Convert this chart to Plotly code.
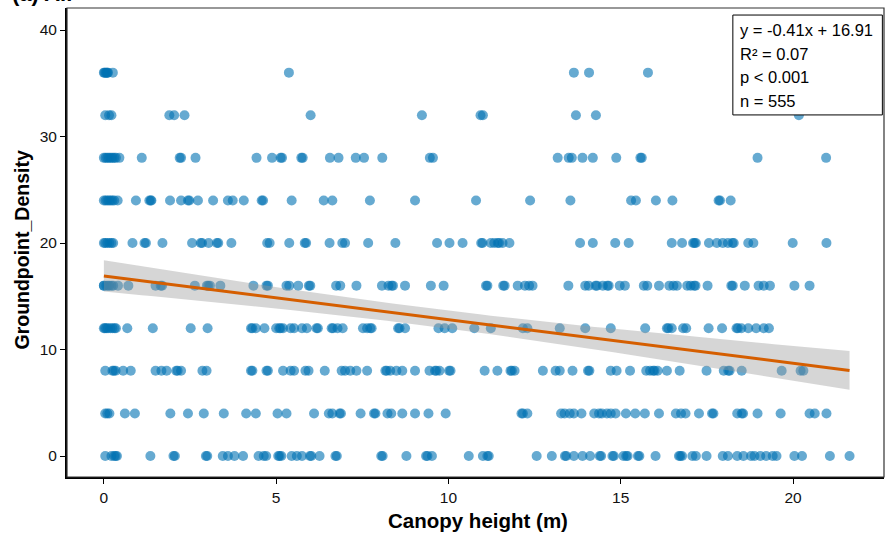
import numpy as np
import plotly.graph_objects as go

# Groundpoint density levels and canopy heights (m)
y36 = [0.0, 0.02, 0.05, 0.08, 0.1, 0.12, 0.26, 5.37, 13.64, 14.08, 15.79]
y32 = [0.04, 0.15, 0.22, 1.9, 2.04, 2.34, 6.0, 9.23, 10.93, 11.0, 13.7, 14.28, 20.17]
y28 = [0.0, 0.05, 0.1, 0.15, 0.2, 0.25, 0.3, 0.35, 0.45, 1.1, 2.2, 2.24, 2.66, 4.43, 4.88,
       5.13, 5.17, 5.73, 5.77, 6.56, 6.81, 7.31, 7.55, 8.08, 9.46, 9.55, 13.17, 13.49, 13.58,
       13.89, 14.19, 14.87, 15.57, 15.61, 18.97, 20.96]
y24 = [0.0, 0.05, 0.1, 0.15, 0.2, 0.25, 0.3, 0.4, 0.93, 1.32, 1.36, 1.38, 1.92, 2.24, 2.44,
       2.48, 2.73, 3.17, 3.6, 3.74, 4.06, 4.58, 4.62, 5.45, 6.38, 6.63, 7.72, 9.03, 10.8, 12.37,
       13.54, 15.3, 15.44, 16.02, 16.5, 17.84, 17.88, 18.19]
y20 = [0.0, 0.04, 0.1, 0.16, 0.22, 0.27, 0.83, 1.18, 1.22, 1.7, 2.56, 2.81, 2.85, 3.04, 3.28,
       3.32, 3.7, 4.74, 4.81, 5.38, 5.83, 5.87, 6.55, 6.92, 7.0, 7.67, 8.46, 9.67, 10.03, 10.41,
       10.95, 10.99, 11.23, 11.33, 11.43, 11.47, 11.57, 11.77, 13.82, 14.19, 14.84, 15.23, 16.48,
       16.78, 17.1, 17.14, 17.18, 17.56, 17.79, 17.96, 18.11, 18.24, 18.28, 18.7, 18.85, 19.99, 20.97]
y16 = [0.0, 0.0, 0.07, 0.12, 0.16, 0.22, 0.27, 0.41, 0.71, 1.5, 1.65, 1.69, 2.64, 2.99, 3.03,
       3.08, 3.38, 4.34, 4.72, 4.76, 5.3, 5.38, 5.64, 5.95, 5.99, 6.74, 6.86, 7.33, 8.07, 8.26,
       8.35, 8.39, 8.74, 9.49, 9.86, 11.09, 11.13, 11.59, 11.63, 12.01, 12.22, 12.34, 12.44, 13.48,
       13.97, 14.07, 14.27, 14.31, 14.48, 14.61, 14.65, 14.97, 15.12, 15.67, 15.77, 16.11, 16.41,
       16.53, 16.63, 16.93, 17.03, 17.13, 17.17, 17.52, 18.21, 18.25, 18.6, 19.0, 19.15, 19.33,
       20.04, 20.48]
y12 = [0.0, 0.03, 0.07, 0.12, 0.19, 0.25, 0.31, 0.35, 0.68, 1.42, 2.52, 3.01, 4.27, 4.31, 4.41,
       4.66, 5.0, 5.09, 5.13, 5.2, 5.42, 5.52, 5.75, 5.89, 6.17, 6.21, 6.61, 6.65, 6.78, 6.93,
       7.52, 7.64, 7.73, 7.77, 8.54, 8.58, 8.74, 9.71, 9.89, 10.11, 10.75, 11.23, 12.16, 12.29,
       13.23, 13.97, 14.71, 15.71, 16.34, 16.38, 16.48, 16.81, 16.9, 17.55, 17.94, 18.36, 18.4,
       18.5, 18.7, 18.93, 19.15, 19.3]
y8 = [0.04, 0.25, 0.29, 0.34, 0.56, 0.78, 1.5, 1.67, 1.82, 2.1, 2.14, 2.24, 2.86, 2.98, 4.27,
      4.31, 4.72, 4.76, 5.2, 5.42, 5.52, 5.85, 5.94, 6.41, 6.9, 7.0, 7.15, 7.33, 7.64, 8.17, 8.21,
      8.31, 8.49, 8.66, 9.03, 9.45, 9.61, 9.65, 9.74, 10.02, 10.06, 11.05, 11.42, 11.8, 11.84,
      11.92, 12.74, 13.11, 13.23, 13.6, 14.05, 14.09, 14.71, 14.88, 15.27, 15.74, 15.85, 15.94,
      15.98, 16.07, 16.34, 16.71, 17.49, 17.99, 18.12, 18.16, 18.51, 19.67, 20.22, 20.3]
y4 = [0.04, 0.1, 0.16, 0.61, 0.9, 1.93, 2.44, 2.9, 3.48, 4.13, 4.41, 5.04, 5.3, 6.1, 6.53, 6.63,
      6.84, 6.88, 7.45, 7.84, 7.88, 8.23, 8.34, 8.66, 9.03, 9.42, 9.92, 12.12, 12.16, 12.29, 13.27,
      13.37, 13.52, 13.64, 13.86, 14.23, 14.37, 14.45, 14.6, 14.71, 14.85, 15.15, 15.42, 15.7,
      16.11, 16.6, 16.75, 16.88, 17.27, 17.65, 17.69, 18.38, 18.51, 18.55, 18.97, 19.64, 20.48,
      20.63, 20.97]
y0 = [0.04, 0.22, 0.3, 0.34, 0.38, 1.35, 2.02, 2.06, 2.96, 3.0, 3.45, 3.6, 3.79, 4.04, 4.49,
      4.64, 4.71, 5.06, 5.1, 5.15, 5.45, 5.6, 5.75, 5.98, 6.02, 6.26, 6.72, 6.76, 8.05, 8.09,
      8.78, 9.35, 9.39, 9.52, 10.59, 11.0, 11.13, 11.17, 12.56, 13.0, 13.38, 13.42, 13.64, 13.89,
      14.11, 14.39, 14.43, 14.76, 14.8, 15.08, 15.16, 15.2, 15.5, 15.54, 16.01, 16.69, 16.73,
      16.78, 17.08, 17.18, 17.49, 17.96, 18.11, 18.38, 18.56, 18.78, 18.88, 19.05, 19.22, 19.41,
      19.52, 20.04, 20.26, 21.07, 21.64]

density_levels = [36, 32, 28, 24, 20, 16, 12, 8, 4, 0]
height_rows = [y36, y32, y28, y24, y20, y16, y12, y8, y4, y0]

slope = -0.41
intercept = 16.91
stats_lines = ["y = -0.41x + 16.91", "R² = 0.07", "p < 0.001", "n = 555"]
x_ticks = [0, 5, 10, 15, 20]
y_ticks = [0, 10, 20, 30, 40]
x_title = "Canopy height (m)"
y_title = "Groundpoint_Density"

xs = np.concatenate([np.array(r, dtype=float) for r in height_rows])
ys = np.concatenate([np.full(len(r), lvl, dtype=float) for r, lvl in zip(height_rows, density_levels)])

# confidence band around the fitted line
n = len(xs)
resid = ys - (intercept + slope * xs)
s = np.sqrt(np.sum(resid ** 2) / (n - 2))
xbar = xs.mean()
sxx = np.sum((xs - xbar) ** 2)
xg = np.linspace(xs.min(), xs.max(), 80)
yg = intercept + slope * xg
se = s * np.sqrt(1.0 / n + (xg - xbar) ** 2 / sxx)
lo = yg - 1.964 * se
hi = yg + 1.964 * se

fig = go.Figure()
fig.add_trace(go.Scatter(
    x=xs, y=ys, mode="markers",
    marker=dict(size=10, color="rgba(0,114,178,0.6)", line=dict(width=0)),
    showlegend=False, hoverinfo="x+y"))
fig.add_trace(go.Scatter(
    x=np.concatenate([xg, xg[::-1]]), y=np.concatenate([hi, lo[::-1]]),
    fill="toself", fillcolor="rgba(153,153,153,0.4)", line=dict(width=0),
    mode="lines", showlegend=False, hoverinfo="skip"))
fig.add_trace(go.Scatter(
    x=xg, y=yg, mode="lines", line=dict(color="#D55E00", width=3),
    showlegend=False, hoverinfo="skip"))

font_family = "Liberation Sans, Arial, sans-serif"

fig.update_layout(
    width=887, height=536,
    margin=dict(l=67, r=3, t=8, b=59, autoexpand=False),
    paper_bgcolor="white", plot_bgcolor="white",
    font=dict(family=font_family, size=15, color="black"),
    xaxis=dict(
        range=[-1.07, 22.64], tickvals=x_ticks, showgrid=False, zeroline=False,
        showline=True, linecolor="black", linewidth=2, automargin=False,
        ticks="outside", ticklen=5, tickwidth=1.2, tickcolor="black",
        tickfont=dict(size=15.5, color="#111111")),
    yaxis=dict(
        range=[-1.97, 42.07], tickvals=y_ticks, showgrid=False, zeroline=False,
        showline=True, linecolor="black", linewidth=2, automargin=False,
        ticks="outside", ticklen=5, tickwidth=1.2, tickcolor="black",
        tickfont=dict(size=15.5, color="#111111")),
)

# axis titles
fig.add_annotation(text="<b>" + x_title + "</b>", xref="paper", yref="paper", x=0.5025, y=-0.0938,
                   xanchor="center", yanchor="middle", showarrow=False,
                   font=dict(size=20.5, color="black", family=font_family))
fig.add_annotation(text="<b>" + y_title + "</b>", xref="paper", yref="paper", x=-0.055, y=0.483,
                   xanchor="center", yanchor="middle", textangle=-90, showarrow=False,
                   font=dict(size=19.5, color="black", family=font_family))

# thin frame on top and right
fig.add_shape(type="rect", xref="paper", yref="paper", x0=0, x1=1, y0=0, y1=1,
              line=dict(color="#333333", width=1.2), layer="above")
# stats box
fig.add_shape(type="rect", xref="paper", yref="paper", x0=0.815, x1=0.998, y0=0.772, y1=0.985,
              line=dict(color="black", width=1), fillcolor="white", layer="above")
for txt, yp in zip(stats_lines, [0.953, 0.902, 0.853, 0.802]):
    fig.add_annotation(text=txt, xref="paper", yref="paper", x=0.8213, y=yp,
                       xanchor="left", yanchor="middle", showarrow=False,
                       font=dict(size=16.5, color="black", family=font_family))

# panel tag, cut by the top edge of the page (as in the reference)
fig.add_annotation(text="<b>(a) All</b>", xref="paper", yref="paper", x=-0.07, y=0.999,
                   xanchor="left", yanchor="bottom", showarrow=False,
                   font=dict(size=22, color="black", family=font_family))

fig.write_html("out.html", config={"displayModeBar": False},
               post_script="document.body.style.margin='0px';")
